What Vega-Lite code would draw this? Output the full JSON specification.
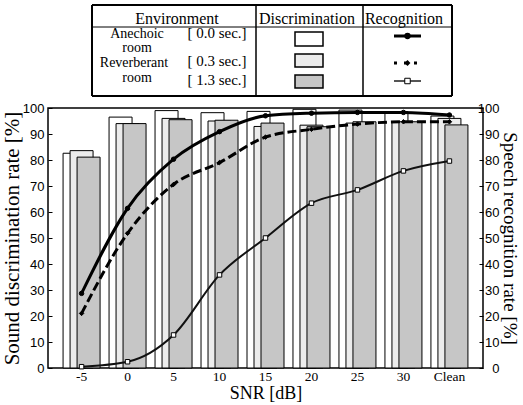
{
  "$schema": "https://vega.github.io/schema/vega-lite/v6.json",
  "padding": {"left": 0, "top": 4, "right": 0, "bottom": 0},
  "background": "#ffffff",
  "config": {
    "view": {"stroke": "#000000", "strokeWidth": 1.5},
    "axis": {"labelColor": "#000000", "titleColor": "#000000", "tickColor": "#000000", "titleFontWeight": "normal", "grid": false, "domain": false},
    "concat": {"spacing": 4}
  },
  "datasets": {
    "rates": [
      {"snr": "-5", "env": "0.0", "disc": 82.6, "recog": 28.7},
      {"snr": "-5", "env": "0.3", "disc": 83.6, "recog": 21.0},
      {"snr": "-5", "env": "1.3", "disc": 81.1, "recog": 0.5},
      {"snr": "0", "env": "0.0", "disc": 96.5, "recog": 61.4},
      {"snr": "0", "env": "0.3", "disc": 94.0, "recog": 51.8},
      {"snr": "0", "env": "1.3", "disc": 94.0, "recog": 2.4},
      {"snr": "5", "env": "0.0", "disc": 99.0, "recog": 80.3},
      {"snr": "5", "env": "0.3", "disc": 96.0, "recog": 70.6},
      {"snr": "5", "env": "1.3", "disc": 95.5, "recog": 12.7},
      {"snr": "10", "env": "0.0", "disc": 98.2, "recog": 90.9},
      {"snr": "10", "env": "0.3", "disc": 95.0, "recog": 79.0},
      {"snr": "10", "env": "1.3", "disc": 95.3, "recog": 35.8},
      {"snr": "15", "env": "0.0", "disc": 98.7, "recog": 97.0},
      {"snr": "15", "env": "0.3", "disc": 92.9, "recog": 88.8},
      {"snr": "15", "env": "1.3", "disc": 94.2, "recog": 50.0},
      {"snr": "20", "env": "0.0", "disc": 99.5, "recog": 98.0},
      {"snr": "20", "env": "0.3", "disc": 93.4, "recog": 91.8},
      {"snr": "20", "env": "1.3", "disc": 92.8, "recog": 63.4},
      {"snr": "25", "env": "0.0", "disc": 99.2, "recog": 98.3},
      {"snr": "25", "env": "0.3", "disc": 94.2, "recog": 93.8},
      {"snr": "25", "env": "1.3", "disc": 94.7, "recog": 68.5},
      {"snr": "30", "env": "0.0", "disc": 98.6, "recog": 98.3},
      {"snr": "30", "env": "0.3", "disc": 94.5, "recog": 94.7},
      {"snr": "30", "env": "1.3", "disc": 94.7, "recog": 75.8},
      {"snr": "Clean", "env": "0.0", "disc": 96.9, "recog": 97.3},
      {"snr": "Clean", "env": "0.3", "disc": 96.0, "recog": 94.7},
      {"snr": "Clean", "env": "1.3", "disc": 93.5, "recog": 79.6}
    ]
  },
  "vconcat": [
    {
      "width": 405,
      "height": 91,
      "view": {"stroke": null},
      "data": {"values": [{}]},
      "layer": [
        {"mark": {"type": "rule", "color": "#000", "strokeWidth": 2}, "encoding": {"x": {"datum": 0, "type": "quantitative", "scale": {"domain": [-44, 361], "nice": false, "zero": false}, "axis": null}, "x2": {"datum": 360}, "y": {"datum": 0, "type": "quantitative", "scale": {"domain": [0, 91], "reverse": true, "nice": false, "zero": false}, "axis": null}}},
        {"mark": {"type": "rule", "color": "#000", "strokeWidth": 2}, "encoding": {"x": {"datum": 0, "type": "quantitative"}, "x2": {"datum": 360}, "y": {"datum": 91, "type": "quantitative"}}},
        {"mark": {"type": "rule", "color": "#000", "strokeWidth": 2}, "encoding": {"x": {"datum": 0, "type": "quantitative"}, "y": {"datum": 0, "type": "quantitative"}, "y2": {"datum": 91}}},
        {"mark": {"type": "rule", "color": "#000", "strokeWidth": 2}, "encoding": {"x": {"datum": 360, "type": "quantitative"}, "y": {"datum": 0, "type": "quantitative"}, "y2": {"datum": 91}}},
        {"mark": {"type": "rule", "color": "#000", "strokeWidth": 1.5}, "encoding": {"x": {"datum": 164, "type": "quantitative"}, "y": {"datum": 0, "type": "quantitative"}, "y2": {"datum": 91}}},
        {"mark": {"type": "rule", "color": "#000", "strokeWidth": 1.5}, "encoding": {"x": {"datum": 271, "type": "quantitative"}, "y": {"datum": 0, "type": "quantitative"}, "y2": {"datum": 91}}},
        {"mark": {"type": "rule", "color": "#000", "strokeWidth": 1}, "encoding": {"x": {"datum": 0, "type": "quantitative"}, "x2": {"datum": 360}, "y": {"datum": 22, "type": "quantitative"}}},
        {"mark": {"type": "text", "text": "Environment", "font": "Liberation Serif", "fontSize": 16, "align": "center", "baseline": "alphabetic", "color": "#000"}, "encoding": {"x": {"datum": 85, "type": "quantitative"}, "y": {"datum": 19, "type": "quantitative"}}},
        {"mark": {"type": "text", "text": "Discrimination", "font": "Liberation Serif", "fontSize": 16, "align": "center", "baseline": "alphabetic", "color": "#000"}, "encoding": {"x": {"datum": 215, "type": "quantitative"}, "y": {"datum": 19, "type": "quantitative"}}},
        {"mark": {"type": "text", "text": "Recognition", "font": "Liberation Serif", "fontSize": 16, "align": "center", "baseline": "alphabetic", "color": "#000"}, "encoding": {"x": {"datum": 312, "type": "quantitative"}, "y": {"datum": 19, "type": "quantitative"}}},
        {"mark": {"type": "text", "text": "Anechoic", "font": "Liberation Serif", "fontSize": 14, "align": "center", "baseline": "alphabetic", "color": "#000"}, "encoding": {"x": {"datum": 45, "type": "quantitative"}, "y": {"datum": 33, "type": "quantitative"}}},
        {"mark": {"type": "text", "text": "room", "font": "Liberation Serif", "fontSize": 14, "align": "center", "baseline": "alphabetic", "color": "#000"}, "encoding": {"x": {"datum": 45, "type": "quantitative"}, "y": {"datum": 47, "type": "quantitative"}}},
        {"mark": {"type": "text", "text": "Reverberant", "font": "Liberation Serif", "fontSize": 14, "align": "center", "baseline": "alphabetic", "color": "#000"}, "encoding": {"x": {"datum": 42, "type": "quantitative"}, "y": {"datum": 62, "type": "quantitative"}}},
        {"mark": {"type": "text", "text": "room", "font": "Liberation Serif", "fontSize": 14, "align": "center", "baseline": "alphabetic", "color": "#000"}, "encoding": {"x": {"datum": 45, "type": "quantitative"}, "y": {"datum": 77, "type": "quantitative"}}},
        {"mark": {"type": "text", "text": "[ 0.0 sec.]", "font": "Liberation Serif", "fontSize": 15, "align": "center", "baseline": "alphabetic", "color": "#000"}, "encoding": {"x": {"datum": 125, "type": "quantitative"}, "y": {"datum": 33, "type": "quantitative"}}},
        {"mark": {"type": "text", "text": "[ 0.3 sec.]", "font": "Liberation Serif", "fontSize": 15, "align": "center", "baseline": "alphabetic", "color": "#000"}, "encoding": {"x": {"datum": 125, "type": "quantitative"}, "y": {"datum": 61, "type": "quantitative"}}},
        {"mark": {"type": "text", "text": "[ 1.3 sec.]", "font": "Liberation Serif", "fontSize": 15, "align": "center", "baseline": "alphabetic", "color": "#000"}, "encoding": {"x": {"datum": 125, "type": "quantitative"}, "y": {"datum": 80, "type": "quantitative"}}},
        {"mark": {"type": "rect", "fill": "#ffffff", "stroke": "#000", "strokeWidth": 1.5}, "encoding": {"x": {"datum": 203, "type": "quantitative"}, "x2": {"datum": 231}, "y": {"datum": 27, "type": "quantitative"}, "y2": {"datum": 41}}},
        {"mark": {"type": "rect", "fill": "#ececec", "stroke": "#000", "strokeWidth": 1.5}, "encoding": {"x": {"datum": 203, "type": "quantitative"}, "x2": {"datum": 231}, "y": {"datum": 49, "type": "quantitative"}, "y2": {"datum": 62}}},
        {"mark": {"type": "rect", "fill": "#c6c6c6", "stroke": "#000", "strokeWidth": 1.5}, "encoding": {"x": {"datum": 203, "type": "quantitative"}, "x2": {"datum": 231}, "y": {"datum": 70, "type": "quantitative"}, "y2": {"datum": 83}}},
        {"mark": {"type": "rule", "color": "#000", "strokeWidth": 3}, "encoding": {"x": {"datum": 302, "type": "quantitative"}, "x2": {"datum": 329}, "y": {"datum": 31, "type": "quantitative"}}},
        {"mark": {"type": "rule", "color": "#000", "strokeWidth": 3, "strokeDash": [3, 7]}, "encoding": {"x": {"datum": 302, "type": "quantitative"}, "x2": {"datum": 330}, "y": {"datum": 58, "type": "quantitative"}}},
        {"mark": {"type": "rule", "color": "#555", "strokeWidth": 2}, "encoding": {"x": {"datum": 302, "type": "quantitative"}, "x2": {"datum": 329}, "y": {"datum": 76, "type": "quantitative"}}},
        {"mark": {"type": "point", "shape": "circle", "filled": true, "color": "#000", "size": 40, "opacity": 1}, "encoding": {"x": {"datum": 315.5, "type": "quantitative"}, "y": {"datum": 31, "type": "quantitative"}}},
        {"mark": {"type": "point", "shape": "diamond", "filled": true, "color": "#000", "size": 35, "opacity": 1}, "encoding": {"x": {"datum": 315.5, "type": "quantitative"}, "y": {"datum": 58, "type": "quantitative"}}},
        {"mark": {"type": "point", "shape": "square", "filled": true, "fill": "#fff", "stroke": "#000", "strokeWidth": 1, "size": 30, "opacity": 1}, "encoding": {"x": {"datum": 315.5, "type": "quantitative"}, "y": {"datum": 76, "type": "quantitative"}}}
      ]
    },
    {
      "width": 435,
      "height": 260,
      "data": {"name": "rates"},
      "encoding": {
        "x": {
          "field": "snr", "type": "nominal",
          "sort": ["-5", "0", "5", "10", "15", "20", "25", "30", "Clean"],
          "scale": {"paddingInner": 0, "paddingOuter": 0.23},
          "axis": {"title": "SNR [dB]", "labelAngle": 0, "ticks": false, "labelFont": "Liberation Serif", "labelFontSize": 13.5, "labelPadding": 1, "titleFont": "Liberation Serif", "titleFontSize": 18, "titlePadding": 2}
        }
      },
      "layer": [
        {
          "encoding": {
            "y": {
              "field": "disc", "type": "quantitative",
              "scale": {"domain": [0, 100], "nice": false},
              "axis": {"orient": "left", "title": "Sound discrimination rate [%]", "values": [0, 10, 20, 30, 40, 50, 60, 70, 80, 90, 100], "tickSize": -4, "labelPadding": 8, "labelFont": "Liberation Sans", "labelFontSize": 13, "titleFont": "Liberation Serif", "titleFontSize": 21, "titlePadding": 0}
            }
          },
          "layer": [
            {"transform": [{"filter": "datum.env === '0.0'"}], "mark": {"type": "bar", "width": 23, "xOffset": -7, "fill": "#ffffff", "stroke": "#000", "strokeWidth": 1}},
            {"transform": [{"filter": "datum.env === '0.3'"}], "mark": {"type": "bar", "width": 23, "xOffset": 0, "fill": "#ececec", "stroke": "#000", "strokeWidth": 1}},
            {"transform": [{"filter": "datum.env === '1.3'"}], "mark": {"type": "bar", "width": 23, "xOffset": 7, "fill": "#c6c6c6", "stroke": "#000", "strokeWidth": 1}}
          ]
        },
        {
          "encoding": {
            "y": {
              "field": "recog", "type": "quantitative",
              "scale": {"domain": [0, 100], "nice": false},
              "axis": {"orient": "right", "title": "Speech recognition rate [%]", "values": [0, 10, 20, 30, 40, 50, 60, 70, 80, 90, 100], "tickSize": -4, "labelPadding": 20, "labelAlign": "right", "labelFont": "Liberation Sans", "labelFontSize": 13, "titleFont": "Liberation Serif", "titleFontSize": 19, "titleAngle": 90, "titlePadding": 0}
            }
          },
          "layer": [
            {"transform": [{"filter": "datum.env === '0.0'"}], "mark": {"type": "line", "interpolate": "monotone", "color": "#000", "strokeWidth": 3}},
            {"transform": [{"filter": "datum.env === '0.3'"}], "mark": {"type": "line", "interpolate": "monotone", "color": "#000", "strokeWidth": 3, "strokeDash": [9, 4]}},
            {"transform": [{"filter": "datum.env === '1.3'"}], "mark": {"type": "line", "interpolate": "monotone", "color": "#111", "strokeWidth": 2}},
            {
              "mark": {"type": "point", "filled": true, "stroke": "#000", "strokeWidth": 1, "size": 20, "opacity": 1},
              "encoding": {
                "shape": {"field": "env", "type": "nominal", "scale": {"domain": ["0.0", "0.3", "1.3"], "range": ["circle", "diamond", "square"]}, "legend": null},
                "fill": {"field": "env", "type": "nominal", "scale": {"domain": ["0.0", "0.3", "1.3"], "range": ["#000000", "#000000", "#ffffff"]}, "legend": null}
              }
            }
          ]
        }
      ],
      "resolve": {"scale": {"y": "independent"}}
    }
  ]
}
